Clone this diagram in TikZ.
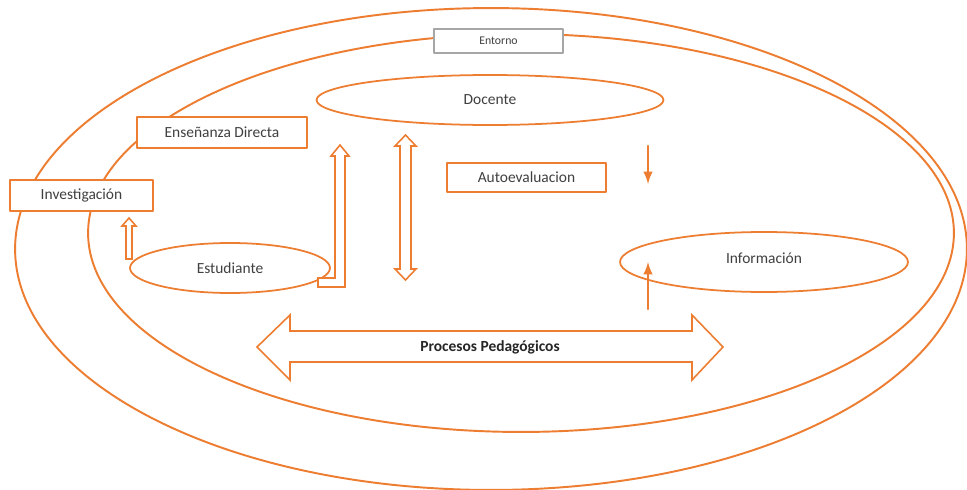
\documentclass[tikz,border=0pt]{standalone}
\usepackage{fontspec}
\setmainfont{Carlito}
\usepackage{pgf,tikz}
\usetikzlibrary{arrows,shapes.geometric}
\definecolor{naranja}{HTML}{ED7D31}
\definecolor{grisletra}{HTML}{404040}
\tikzset{
  caja/.style={draw=naranja,line width=1.1pt,fill=white,inner sep=0pt,text=grisletra,font=\fontsize{8.8}{10}\selectfont},
  ovalo/.style={ellipse,draw=naranja,line width=1pt,fill=white,inner sep=0pt,text=grisletra,font=\fontsize{8.8}{10}\selectfont},
  hueca/.style={draw=naranja,line width=0.9pt,fill=white,line join=miter},
  flecha/.style={-latex,draw=naranja,line width=1.4pt}
}
\begin{document}
\begin{tikzpicture}[line cap=round,line join=round,>=triangle 45,x=0.02cm,y=-0.02cm]
    \useasboundingbox (0,0) rectangle (967,490);
    \fill[white] (0,0) rectangle (967,490);
    % entorno
    \draw [naranja,line width=1.1pt] (491,249) ellipse (9.52cm and 4.82cm);
    \draw [naranja,line width=1.1pt] (521,233) ellipse (8.66cm and 3.98cm);
    \node[draw=gray!70,line width=0.7pt,fill=white,minimum width=2.58cm,minimum height=0.48cm,inner sep=0pt,text=grisletra,font=\fontsize{6.7}{8}\selectfont] (entorno) at (498.5,41) {Entorno};
    % nodos
    \node[ovalo,minimum width=6.94cm,minimum height=1.0cm] (docente) at (490,100) {Docente};
    \node[caja,minimum width=3.4cm,minimum height=0.62cm] (ensenanza) at (222,132.5) {Enseñanza Directa};
    \node[caja,minimum width=2.86cm,minimum height=0.62cm] (investigacion) at (81.5,195.5) {Investigación};
    \node[caja,minimum width=3.18cm,minimum height=0.58cm] (autoeval) at (526.5,177.5) {Autoevaluacion};
    \node[ovalo,minimum width=4.0cm,minimum height=1.0cm] (estudiante) at (230,268) {Estudiante};
    \node[ovalo,minimum width=5.76cm,minimum height=1.2cm] (informacion) at (764,262) {\raisebox{4pt}{Información}};
    % flechas huecas
    \draw [hueca] (257,347)-- (290,315)-- (290,331)-- (692,331)-- (692,315)-- (723,347)-- (692,380)-- (692,362)-- (290,362)-- (290,380)-- cycle;
    \node[text=black!85,font=\bfseries\fontsize{8.8}{10}\selectfont] (procesos) at (490,347) {Procesos Pedagógicos};
    \draw [hueca] (405.5,135)-- (416,146)-- (411,146)-- (411,269)-- (416,269)-- (405.5,280)-- (395,269)-- (400,269)-- (400,146)-- (395,146)-- cycle;
    \draw [hueca] (129,218)-- (136,226)-- (132,226)-- (132,259)-- (126,259)-- (126,226)-- (122,226)-- cycle;
    \draw [hueca] (318,278)-- (335,278)-- (335,156)-- (331,156)-- (340,145)-- (349,156)-- (345,156)-- (345,287)-- (318,287)-- cycle;
    % flechas llenas
    \coordinate (c1) at (648,146);
    \coordinate (c2) at (648,184);
    \coordinate (c3) at (648,309);
    \coordinate (c4) at (648,262);
    \draw [flecha] (c1)-- (c2);
    \draw [flecha] (c3)-- (c4);
\end{tikzpicture}
\end{document}
